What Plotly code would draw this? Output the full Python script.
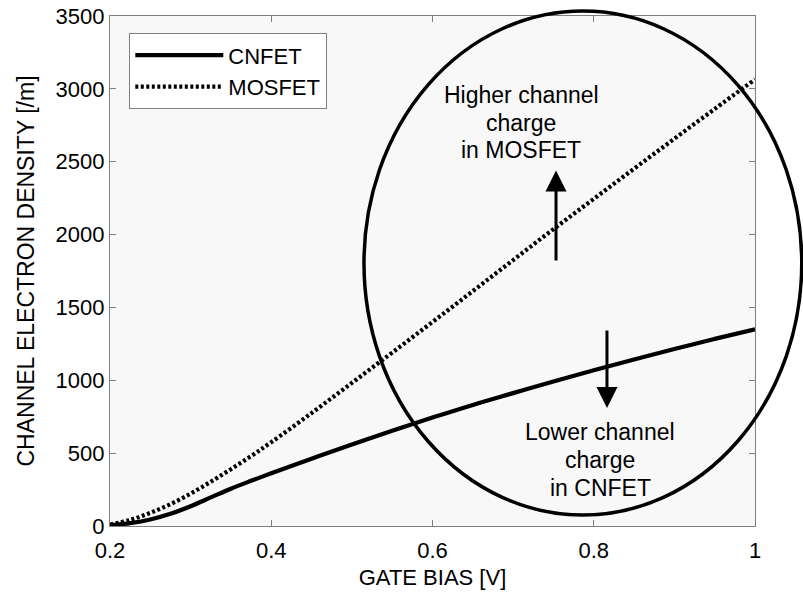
import plotly.graph_objects as go

# Data
gate_bias = [0.20, 0.225, 0.25, 0.275, 0.30, 0.325, 0.35, 0.375, 0.40, 0.45, 0.50,
             0.55, 0.60, 0.65, 0.70, 0.75, 0.80, 0.85, 0.90, 0.95, 1.00]
cnfet = [5, 20, 45, 84, 136, 196, 256, 310, 362, 462, 560,
         654, 744, 831, 912, 992, 1069, 1143, 1215, 1284, 1350]
mosfet = [10, 42, 90, 150, 222, 304, 390, 480, 575, 775, 982,
          1190, 1400, 1612, 1825, 2037, 2245, 2452, 2658, 2862, 3065]

x_ticks = [0.2, 0.4, 0.6, 0.8, 1.0]
x_tick_text = ["0.2", "0.4", "0.6", "0.8", "1"]
y_ticks = [0, 500, 1000, 1500, 2000, 2500, 3000, 3500]

X_RANGE = [0.2, 1.0]
Y_RANGE = [0, 3500]

# Ellipse extent in data units (annotation)
ell_x = [0.515, 1.058]
ell_y = [75, 3534]

FONT = "Liberation Sans, Arial, Helvetica, sans-serif"
AXC = "#7f7f7f"

def px(v):
    return (v - X_RANGE[0]) / (X_RANGE[1] - X_RANGE[0])

def py(v):
    return (v - Y_RANGE[0]) / (Y_RANGE[1] - Y_RANGE[0])

fig = go.Figure()
fig.add_trace(go.Scatter(x=gate_bias, y=cnfet, mode="lines", name="CNFET",
                         line=dict(color="black", width=4.2, shape="spline")))
fig.add_trace(go.Scatter(x=gate_bias, y=mosfet, mode="lines", name="MOSFET",
                         line=dict(color="black", width=4.2, dash="3px,2.5px", shape="spline")))

fig.add_shape(type="circle", xref="paper", yref="paper",
              x0=px(ell_x[0]), x1=px(ell_x[1]), y0=py(ell_y[0]), y1=py(ell_y[1]),
              line=dict(color="black", width=3.5), layer="above")

# arrows
fig.add_annotation(x=0.7532, y=2440, ax=0.7532, ay=1812, xref="x", yref="y",
                   axref="x", ayref="y", text="", showarrow=True, arrowhead=2,
                   arrowsize=1.4, arrowwidth=3, arrowcolor="black")
fig.add_annotation(x=0.8164, y=810, ax=0.8164, ay=1352, xref="x", yref="y",
                   axref="x", ayref="y", text="", showarrow=True, arrowhead=2,
                   arrowsize=1.4, arrowwidth=3, arrowcolor="black")

for txt, yv in [("Higher channel", 2958), ("charge", 2766), ("in MOSFET", 2581)]:
    fig.add_annotation(x=0.7098, y=yv, xref="x", yref="y", text=txt, showarrow=False,
                       font=dict(family=FONT, size=23, color="black"))
for txt, yv in [("Lower channel", 647), ("charge", 453), ("in CNFET", 259)]:
    fig.add_annotation(x=0.8078, y=yv, xref="x", yref="y", text=txt, showarrow=False,
                       font=dict(family=FONT, size=23, color="black"))

fig.update_xaxes(range=X_RANGE, tickvals=x_ticks, ticktext=x_tick_text, automargin=False,
                 showgrid=False, zeroline=False, showline=True, linecolor=AXC, linewidth=1.3,
                 mirror="ticks", ticks="inside", ticklen=6, tickcolor=AXC, tickwidth=1,
                 ticklabelstandoff=4,
                 tickfont=dict(family=FONT, size=22, color="black"),
                 title=dict(text="GATE BIAS [V]", font=dict(family=FONT, size=22, color="black"),
                            standoff=8))
fig.update_yaxes(range=Y_RANGE, tickvals=y_ticks, automargin=False,
                 showgrid=False, zeroline=False, showline=True, linecolor=AXC, linewidth=1.3,
                 mirror="ticks", ticks="inside", ticklen=6, tickcolor=AXC, tickwidth=1,
                 tickfont=dict(family=FONT, size=22, color="black"),
                 title=dict(text="CHANNEL ELECTRON DENSITY [/m]",
                            font=dict(family=FONT, size=23, color="black"), standoff=14))

fig.update_layout(
    width=803, height=594,
    margin=dict(l=110, r=48, t=16, b=68, autoexpand=False),
    paper_bgcolor="white", plot_bgcolor="#f8f8f8",
    showlegend=True,
    legend=dict(x=(129 - 110) / 645, y=(526 - 33) / 510, xanchor="left", yanchor="top",
                bgcolor="white", bordercolor=AXC, borderwidth=1.3,
                font=dict(family=FONT, size=22, color="black"),
                itemwidth=88, tracegroupgap=0),
)

fig.write_html("out.html")
